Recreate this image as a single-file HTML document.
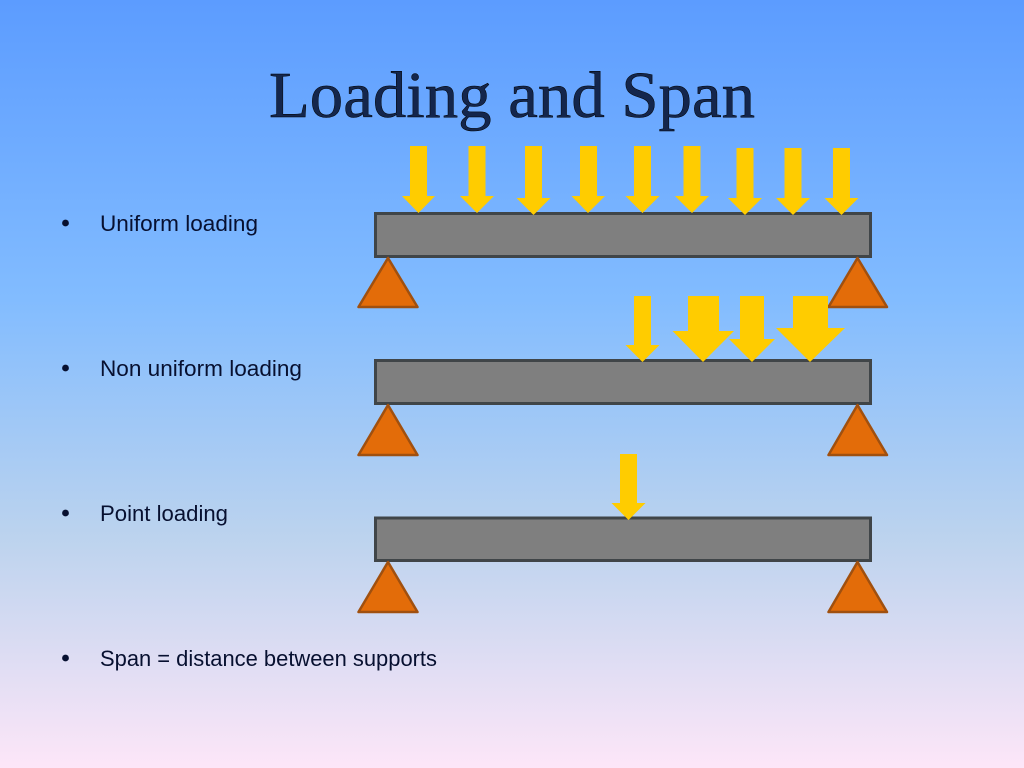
<!DOCTYPE html>
<html><head><meta charset="utf-8"><style>
html,body{margin:0;padding:0;width:1024px;height:768px;overflow:hidden}
svg{display:block}
.t{font-family:"Liberation Sans",sans-serif;font-size:22px;fill:#071030}
.b{fill:#7f7f7f;stroke:#404548;stroke-width:3}
.s{fill:#e36c09;stroke:#a0500f;stroke-width:2.500;stroke-linejoin:round}
.a{fill:#ffcc00}
</style></head><body>
<svg width="1024" height="768" viewBox="0 0 1024 768" xmlns="http://www.w3.org/2000/svg">
<defs><linearGradient id="g" x1="0" y1="0" x2="0" y2="1">
<stop offset="0" stop-color="#5c9cff"/><stop offset=".39" stop-color="#82bcff"/><stop offset=".7" stop-color="#bcd3ee"/><stop offset="1" stop-color="#fde6f8"/>
</linearGradient></defs>
<rect width="1024" height="768" fill="url(#g)"/>
<text x="269" y="117" font-family="Liberation Serif,serif" font-size="66" textLength="486" lengthAdjust="spacingAndGlyphs" fill="#14264c" stroke="#000" stroke-width=".5">Loading and Span</text>
<circle cx="65.500" cy="223" r="3.400" fill="#071030"/><circle cx="65.500" cy="368" r="3.400" fill="#071030"/><circle cx="65.500" cy="513" r="3.400" fill="#071030"/><circle cx="65.500" cy="658" r="3.400" fill="#071030"/>
<text class="t" x="100" y="231" textLength="158" lengthAdjust="spacingAndGlyphs">Uniform loading</text>
<text class="t" x="100" y="376" textLength="202" lengthAdjust="spacingAndGlyphs">Non uniform loading</text>
<text class="t" x="100" y="521" textLength="128" lengthAdjust="spacingAndGlyphs">Point loading</text>
<text class="t" x="100" y="666" textLength="337" lengthAdjust="spacingAndGlyphs">Span = distance between supports</text>
<rect class="b" x="375.500" y="213.500" width="495" height="43"/>
<rect class="b" x="375.500" y="360.500" width="495" height="43"/>
<rect class="b" x="375.500" y="518" width="495" height="42.500"/>
<polygon class="s" points="388,258 358.500,307 417.500,307"/><polygon class="s" points="857.500,258 828.500,307 887,307"/>
<polygon class="s" points="388,405 358.500,455 417.500,455"/><polygon class="s" points="857.500,405 828.500,455 887,455"/>
<polygon class="s" points="388,562 358.500,612 417.500,612"/><polygon class="s" points="857.500,562 828.500,612 887,612"/>
<g class="a">
<polygon points="410,146 427,146 427,196 435,196 418.500,213 402,196 410,196"/>
<polygon points="468.500,146 485.500,146 485.500,196 494,196 477,213 460,196 468.500,196"/>
<polygon points="525,146 542,146 542,198 550.500,198 533.500,215 516.500,198 525,198"/>
<polygon points="580,146 597,146 597,196 605,196 588,213 571.500,196 580,196"/>
<polygon points="634,146 651,146 651,196 659.500,196 642.500,213 625.500,196 634,196"/>
<polygon points="683.500,146 700.500,146 700.500,196 709,196 692,213 675,196 683.500,196"/>
<polygon points="736.500,148 753.500,148 753.500,198 762,198 745,215 728,198 736.500,198"/>
<polygon points="784.500,148 801.500,148 801.500,198 810,198 793,215 776,198 784.500,198"/>
<polygon points="833,148 850,148 850,198 858.500,198 841.500,215 824.500,198 833,198"/>
<polygon points="634,296 651,296 651,345 659.500,345 642.500,362 625.500,345 634,345"/>
<polygon points="688,296 719,296 719,331 734,331 703,362 672.500,331 688,331"/>
<polygon points="740,296 764,296 764,339 775,339 752,362 729,339 740,339"/>
<polygon points="793,296 828,296 828,328 845,328 810,362 776,328 793,328"/>
<polygon points="620,454 637,454 637,503 645.500,503 628.500,520 611.500,503 620,503"/>
</g>
</svg>
</body></html>
